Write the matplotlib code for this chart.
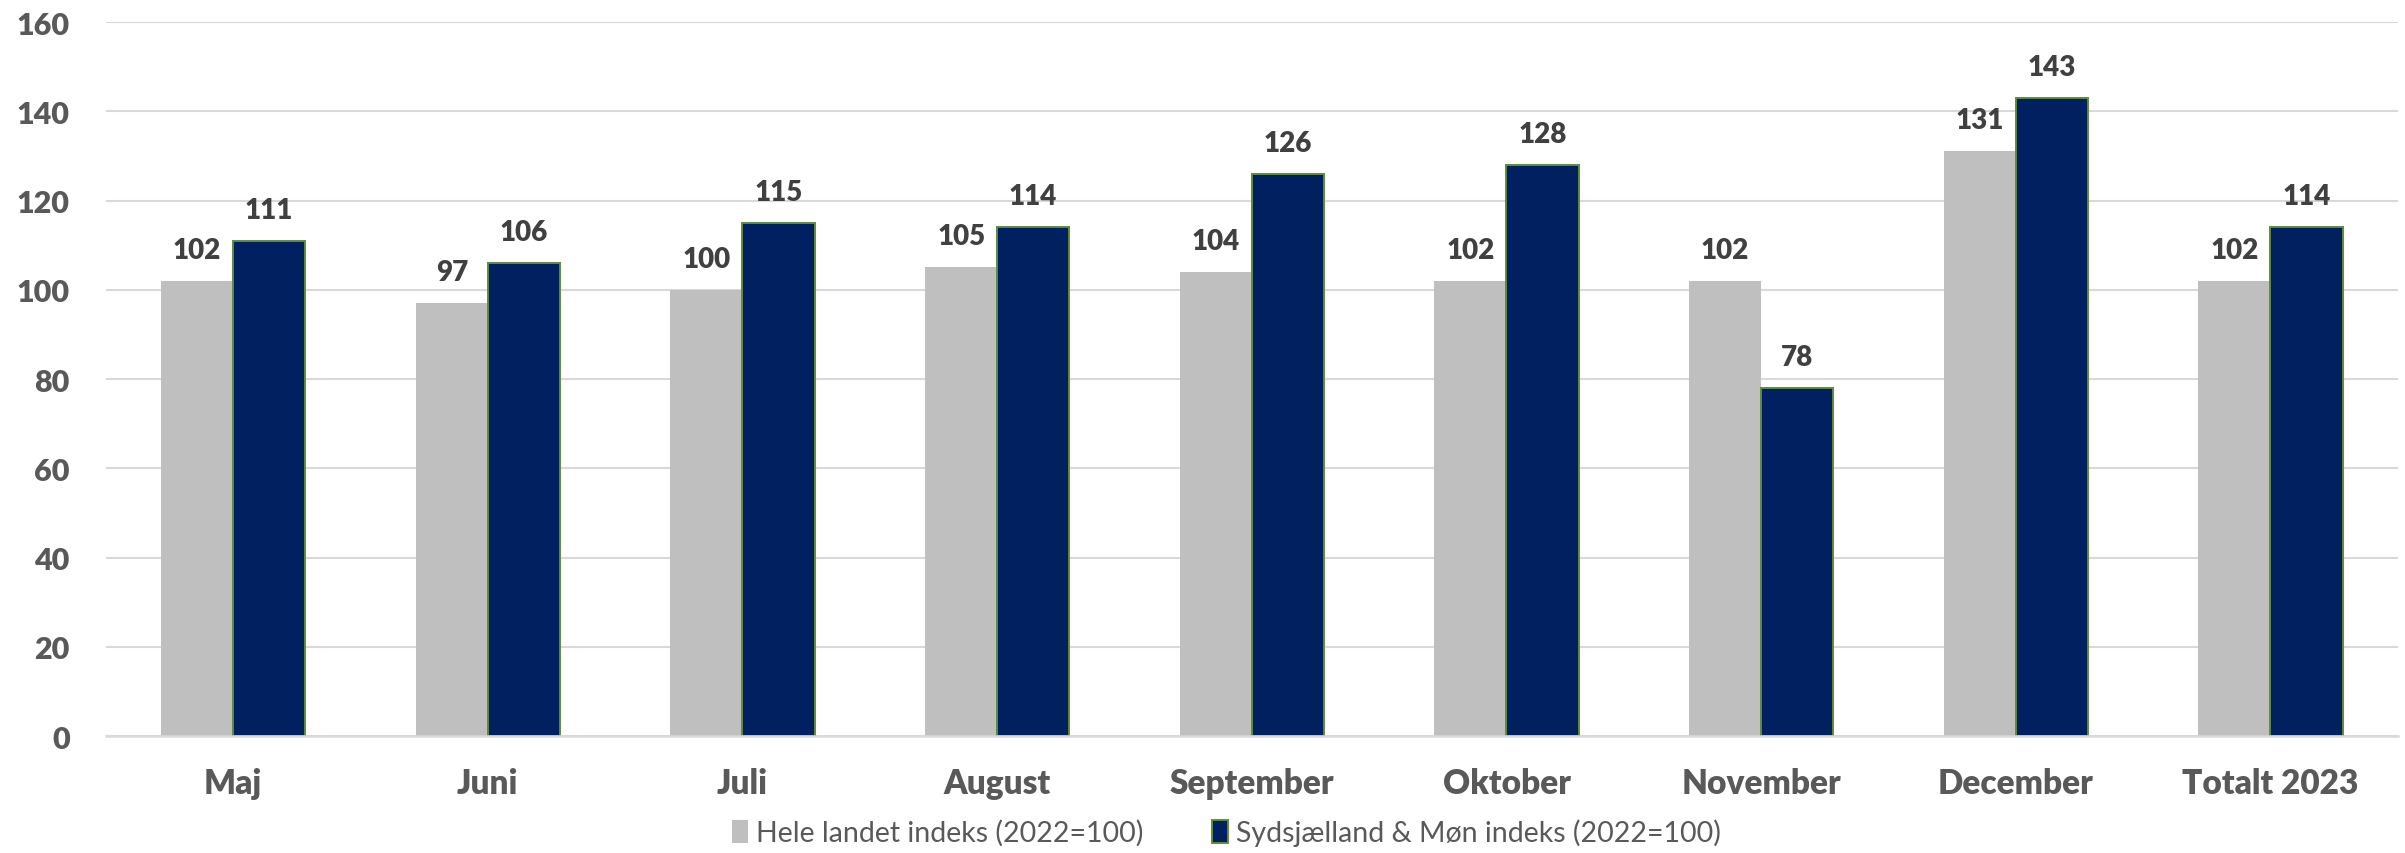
import numpy as np
import matplotlib.pyplot as plt

# data
months = ['Maj', 'Juni', 'Juli', 'August', 'September', 'Oktober',
          'November', 'December', 'Totalt 2023']
hele_landet = [102, 97, 100, 105, 104, 102, 102, 131, 102]
sydsjaelland = [111, 106, 115, 114, 126, 128, 78, 143, 114]

plt.rcParams['font.family'] = ['Lato', 'DejaVu Sans']

fig = plt.figure(figsize=(24.05, 8.54), dpi=100)
ax = fig.add_axes([0.044, 0.137, 0.953, 0.836])

x = np.arange(len(months))
w = 0.283

b1 = ax.bar(x - w / 2, hele_landet, w, color='#BFBFBF',
            label='Hele landet indeks (2022=100)', zorder=2)
b2 = ax.bar(x + w / 2, sydsjaelland, w, color='#002060', edgecolor='#5E8C3C',
            linewidth=1.4, label='Sydsjælland & Møn indeks (2022=100)', zorder=2)

for bars, vals in [(b1, hele_landet), (b2, sydsjaelland)]:
    for b, v in zip(bars, vals):
        ax.annotate(str(v), (b.get_x() + b.get_width() / 2, v),
                    xytext=(0, 13), textcoords='offset points',
                    ha='center', va='bottom', fontsize=20,
                    fontweight='heavy', color='#404040')

ax.set_xlim(-0.5, len(months) - 0.5)
ax.set_ylim(0, 160)
ax.set_yticks(range(0, 161, 20))
ax.set_xticks(x)
ax.set_xticklabels(months)
ax.yaxis.grid(True, color='#D9D9D9', linewidth=1.5, zorder=0)
ax.set_axisbelow(True)

for s in ['top', 'right', 'left']:
    ax.spines[s].set_visible(False)
ax.spines['bottom'].set_color('#D9D9D9')
ax.spines['bottom'].set_linewidth(1.8)

ax.tick_params(axis='y', length=0, pad=26, labelsize=22, labelcolor='#595959')
ax.tick_params(axis='x', length=0, pad=22, labelsize=24, labelcolor='#595959')
for t in ax.get_xticklabels() + ax.get_yticklabels():
    t.set_fontweight('heavy')

fig.legend(loc='lower center', bbox_to_anchor=(0.51, -0.022), ncol=2,
           frameon=False, fontsize=20.5, labelcolor='#595959',
           handlelength=0.55, handleheight=0.85, handletextpad=0.3,
           columnspacing=2.4)

plt.savefig('out.png', dpi=100)
